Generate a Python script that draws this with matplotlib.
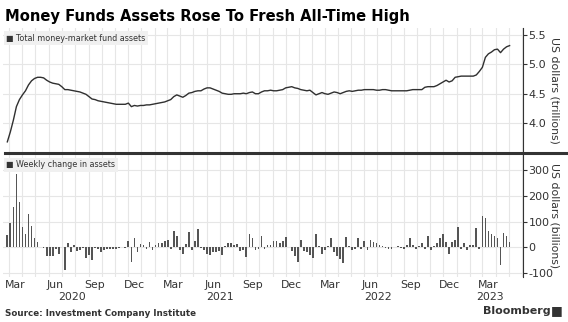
import numpy as np
import pandas as pd
import matplotlib
matplotlib.use("Agg")
import matplotlib.pyplot as plt
import matplotlib.dates as mdates
from matplotlib.lines import Line2D

# Weekly data, first week ended Wed 2020-02-26
start_date = "2020-02-26"

total_assets = [  # trillions of US dollars
    3.68, 3.85, 4.05, 4.28, 4.40, 4.48, 4.55, 4.65, 4.72, 4.76,
    4.78, 4.78, 4.77, 4.73, 4.70, 4.68, 4.67, 4.66, 4.62, 4.57,
    4.57, 4.56, 4.55, 4.54, 4.53, 4.51, 4.49, 4.45, 4.41, 4.40,
    4.38, 4.37, 4.36, 4.35, 4.34, 4.33, 4.32, 4.32, 4.32, 4.32,
    4.34, 4.28, 4.30, 4.29, 4.30, 4.30, 4.31, 4.31, 4.32, 4.33,
    4.34, 4.35, 4.36, 4.38, 4.40, 4.45, 4.48, 4.46, 4.44, 4.47,
    4.51, 4.52, 4.54, 4.55, 4.55, 4.58, 4.60, 4.60, 4.58, 4.56,
    4.54, 4.51, 4.50, 4.49, 4.49, 4.50, 4.50, 4.50, 4.51, 4.50,
    4.52, 4.53, 4.50, 4.50, 4.53, 4.55, 4.55, 4.56, 4.55, 4.55,
    4.56, 4.57, 4.60, 4.61, 4.62, 4.60, 4.59, 4.57, 4.56, 4.55,
    4.56, 4.52, 4.48, 4.50, 4.52, 4.50, 4.49, 4.51, 4.53, 4.52,
    4.50, 4.52, 4.54, 4.55, 4.54, 4.55, 4.56, 4.56, 4.57, 4.57,
    4.57, 4.57, 4.56, 4.56, 4.57, 4.57, 4.56, 4.55, 4.55, 4.55,
    4.55, 4.55, 4.55, 4.56, 4.57, 4.57, 4.57, 4.57, 4.61, 4.62,
    4.62, 4.62, 4.64, 4.67, 4.70, 4.73, 4.70, 4.72, 4.78, 4.79,
    4.80, 4.80, 4.80, 4.80, 4.80, 4.82, 4.88, 4.95, 5.12, 5.18,
    5.21, 5.25, 5.26, 5.20, 5.26, 5.30, 5.32,
]

weekly_change = [  # billions of US dollars
    48, 94, 158, 286, 174, 77, 51, 129, 82, 35,
    19, 3, -2, -35, -35, -32, -5, -26, 0, -87,
    18, -18, 8, -15, -10, -3, -40, -30, -50, -3,
    -5, -18, -12, -5, -8, -5, -8, -2, 0, -3,
    25, -55, 35, -20, 12, 8, -5, 20, -10, 10,
    15, 15, 25, 30, -5, 65, 45, -10, -25, 12,
    60, -12, 25, 70, -3, -10, -25, -30, -20, -20,
    -15, -30, 5, 15, 15, 10, 12, -15, -10, -38,
    50, 35, -12, -5, 45, -5, 10, 10, 25, 25,
    15, 25, 40, 2, -15, -35, -55, 30, -15, -20,
    -30, -40, 50, 5, -25, -10, 5, 35, -20, -35,
    -45, -60, 40, 5, -10, -8, 38, -5, 25, -10,
    30, 20, 15, 10, 5, -3, -8, -5, 3, 5,
    -3, -5, 8, 35, 10, -5, 5, 15, -5, 45,
    -10, 5, 15, 35, 50, 20, -25, 20, 30, 80,
    -5, 15, -10, 10, 10, 75, -5, 120, 115, 65,
    50, 45, 35, -70, 55, 45, 20,
]

year_labels = ["2020", "2021", "2022", "2023"]

title = "Money Funds Assets Rose To Fresh All-Time High"
source = "Source: Investment Company Institute"

dates = pd.date_range(start_date, periods=len(total_assets), freq="W-WED")

W, H = 568, 322
fig = plt.figure(figsize=(W / 100, H / 100), dpi=100)
fig.patch.set_facecolor("white")

TXT = "#333333"
GRID = "#e6e6e6"
xlim = (pd.Timestamp("2020-02-16"), pd.Timestamp("2023-06-03"))


def px_axes(x0, y0, x1, y1):
    return fig.add_axes([x0 / W, 1 - y1 / H, (x1 - x0) / W, (y1 - y0) / H])


def style(ax, unit_label):
    ax.set_xlim(*xlim)
    ax.xaxis.set_minor_locator(mdates.MonthLocator())
    ax.xaxis.set_major_locator(mdates.MonthLocator(bymonth=[3, 6, 9, 12], bymonthday=15))
    ax.grid(True, which="minor", axis="x", color=GRID, lw=0.8)
    ax.grid(True, which="major", axis="y", color=GRID, lw=0.8)
    ax.tick_params(axis="x", which="both", length=0, labelbottom=False)
    for s in ["top", "left", "bottom"]:
        ax.spines[s].set_visible(False)
    ax.spines["right"].set_color(TXT)
    ax.spines["right"].set_linewidth(0.8)
    ax.yaxis.tick_right()
    ax.tick_params(axis="y", which="major", length=3, width=0.8, color=TXT,
                   labelsize=8, labelcolor=TXT, pad=1)
    ax.set_axisbelow(True)
    # unit label at x = 554 px
    ax.text(1.0 + 31 / 520, 0.5, unit_label, transform=ax.transAxes, rotation=270,
            ha="center", va="center", rotation_mode="anchor", fontsize=7.8, color=TXT)


ax1 = px_axes(3, 28, 523, 152)
ax1.plot(dates, total_assets, color="#303030", lw=1.0)
ax1.set_ylim(3.507, 5.62)
ax1.set_yticks([4.0, 4.5, 5.0, 5.5])
ax1.set_yticklabels(["4.0", "4.5", "5.0", "5.5"])
style(ax1, "US dollars (trillions)")

ax2 = px_axes(3, 155, 523, 277)
ax2.bar(dates, weekly_change, width=4.0, color="#555555")
ax2.set_ylim(-115, 358)
ax2.set_yticks([-100, 0, 100, 200, 300])
ax2.set_yticklabels(["-100", "0", "100", "200", "300"])
style(ax2, "US dollars (billions)")

# month / year labels under bottom panel
ax2.tick_params(axis="x", which="major", labelbottom=True, labelsize=7.8, labelcolor=TXT, pad=2)
ticks = ax2.get_xticks()
ax2.set_xticklabels([mdates.num2date(t).strftime("%b") for t in ticks])
for y in year_labels:
    lo = max(pd.Timestamp(f"{y}-01-01"), xlim[0])
    hi = min(pd.Timestamp(f"{y}-12-31"), xlim[1])
    mid = lo + (hi - lo) / 2
    ax2.text(mid, -0.125, y, transform=ax2.get_xaxis_transform(), ha="center", va="top",
             fontsize=7.8, color=TXT)

# legend boxes
box = dict(boxstyle="square,pad=0.3", fc="#f0f0f0", ec="none")
ax1.text(0.006, 0.955, "\u25a0 Total money-market fund assets", transform=ax1.transAxes,
         fontsize=5.8, color=TXT, va="top", ha="left", bbox=box)
ax2.text(0.006, 0.955, "\u25a0 Weekly change in assets", transform=ax2.transAxes,
         fontsize=5.8, color=TXT, va="top", ha="left", bbox=box)

# thick separator between panels
fig.add_artist(Line2D([5 / W, 1], [1 - 153 / H] * 2, color="#333333", lw=2.2,
                      transform=fig.transFigure))

fig.text(5 / W, 1 - 16 / H, title, fontsize=10.6, fontweight="bold", color="black",
         va="center", ha="left")
fig.text(5 / W, 1 - 313 / H, source, fontsize=6.3, fontweight="bold", color=TXT,
         va="center", ha="left")
fig.text(551 / W, 1 - 311 / H, "Bloomberg", fontsize=8, fontweight="bold", color=TXT,
         va="center", ha="right")
fig.text(563 / W, 1 - 311 / H, "\u25a0", fontsize=9, color=TXT, va="center", ha="right")

fig.savefig("out.png", dpi=100)
